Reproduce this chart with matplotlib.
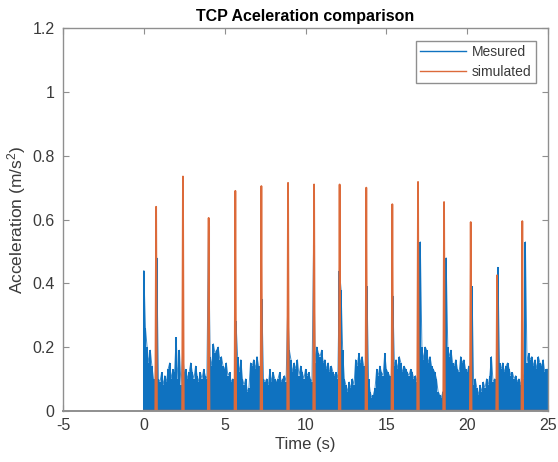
#!/usr/bin/env python3
"""
Recreate the "TCP Aceleration comparison" figure: measured TCP acceleration
(dense noisy trace) against the simulated acceleration pulses.
Writes out.png (558x462 px).
"""

import numpy as np
import matplotlib
matplotlib.use("Agg")
import matplotlib.pyplot as plt
from matplotlib.lines import Line2D
from matplotlib.ticker import FuncFormatter

# ---- data ----------------------------------------------------------------
# measured acceleration, one value every 0.1 s from t = 0 to t = 25 s
# (upper envelope of the sampled trace)
meas_step = 0.1
measured = [
    0.44, 0.26, 0.20, 0.15, 0.19, 0.14, 0.10, 0.06, 0.48, 0.10,   # 0 s
    0.09, 0.12, 0.08, 0.11, 0.09, 0.13, 0.15, 0.10, 0.13, 0.12,   # 1 s
    0.23, 0.10, 0.19, 0.08, 0.18, 0.12, 0.13, 0.10, 0.12, 0.15,   # 2 s
    0.12, 0.10, 0.14, 0.11, 0.09, 0.12, 0.10, 0.13, 0.11, 0.10,   # 3 s
    0.58, 0.17, 0.14, 0.21, 0.18, 0.19, 0.20, 0.16, 0.17, 0.14,   # 4 s
    0.13, 0.15, 0.11, 0.12, 0.09, 0.10, 0.08, 0.28, 0.17, 0.12,   # 5 s
    0.16, 0.10, 0.08, 0.10, 0.06, 0.07, 0.15, 0.14, 0.16, 0.13,   # 6 s
    0.17, 0.14, 0.12, 0.35, 0.10, 0.09, 0.10, 0.08, 0.13, 0.09,   # 7 s
    0.12, 0.10, 0.09, 0.10, 0.12, 0.09, 0.10, 0.11, 0.09, 0.33,   # 8 s
    0.19, 0.16, 0.12, 0.15, 0.13, 0.16, 0.11, 0.14, 0.12, 0.10,   # 9 s
    0.13, 0.11, 0.12, 0.10, 0.09, 0.52, 0.15, 0.20, 0.18, 0.17,   # 10 s
    0.19, 0.15, 0.16, 0.13, 0.15, 0.12, 0.14, 0.12, 0.11, 0.12,   # 11 s
    0.10, 0.44, 0.38, 0.19, 0.10, 0.08, 0.06, 0.09, 0.07, 0.10,   # 12 s
    0.08, 0.16, 0.14, 0.18, 0.15, 0.17, 0.14, 0.13, 0.39, 0.10,   # 13 s
    0.06, 0.04, 0.05, 0.07, 0.13, 0.11, 0.14, 0.12, 0.11, 0.18,   # 14 s
    0.13, 0.12, 0.11, 0.10, 0.36, 0.14, 0.16, 0.13, 0.17, 0.15,   # 15 s
    0.12, 0.14, 0.13, 0.12, 0.11, 0.13, 0.12, 0.10, 0.11, 0.09,   # 16 s
    0.12, 0.53, 0.20, 0.16, 0.20, 0.19, 0.15, 0.17, 0.14, 0.13,   # 17 s
    0.12, 0.10, 0.06, 0.05, 0.04, 0.06, 0.05, 0.48, 0.20, 0.17,   # 18 s
    0.19, 0.15, 0.14, 0.16, 0.13, 0.12, 0.17, 0.15, 0.16, 0.13,   # 19 s
    0.12, 0.14, 0.10, 0.39, 0.08, 0.10, 0.07, 0.05, 0.08, 0.06,   # 20 s
    0.09, 0.07, 0.10, 0.08, 0.11, 0.17, 0.09, 0.10, 0.07, 0.45,   # 21 s
    0.15, 0.13, 0.15, 0.12, 0.14, 0.15, 0.13, 0.11, 0.12, 0.10,   # 22 s
    0.11, 0.09, 0.10, 0.08, 0.12, 0.10, 0.53, 0.15, 0.18, 0.16,   # 23 s
    0.17, 0.14, 0.16, 0.13, 0.17, 0.15, 0.14, 0.16, 0.12, 0.13,   # 24 s
    0.13,                                                         # 25 s
]

# simulated acceleration: zero except for one short pulse per move
pulse_times = [0.76, 2.42, 4.01, 5.66, 7.27, 8.92, 10.53, 12.11,
               13.76, 15.37, 16.96, 18.57, 20.22, 21.85, 23.41]
pulse_peaks = [0.64, 0.735, 0.605, 0.69, 0.705, 0.715, 0.71, 0.71,
               0.70, 0.648, 0.718, 0.655, 0.592, 0.425, 0.595]
sim_start, sim_end = 0.0, 25.0

x_ticks = [-5, 0, 5, 10, 15, 20, 25]
y_ticks = [0, 0.2, 0.4, 0.6, 0.8, 1.0, 1.2]

BLUE = "#0f72c0"
ORANGE = "#dc6a3a"
AXIS_GREY = "#8f8f8f"
TEXT_GREY = "#3a3a3a"

plt.rcParams["font.family"] = ["Liberation Sans", "DejaVu Sans"]
plt.rcParams["mathtext.fontset"] = "custom"
plt.rcParams["mathtext.rm"] = "Liberation Sans"
plt.rcParams["mathtext.it"] = "Liberation Sans:italic"
plt.rcParams["axes.unicode_minus"] = False


def simulated_trace(times, peaks, half_width=0.05):
    t = [sim_start]
    a = [0.0]
    for p, h in zip(times, peaks):
        t += [p - half_width, p, p + half_width]
        a += [0.0, h, 0.0]
    t.append(sim_end)
    a.append(0.0)
    return np.array(t), np.array(a)


def main():
    fig = plt.figure(figsize=(5.58, 4.62), dpi=100)
    ax = fig.add_axes([0.1129, 0.111, 0.8692, 0.8277])

    t_meas = np.arange(len(measured)) * meas_step
    # vertical strokes give the dense filled look of the sampled trace,
    # the thin line on top gives the jagged upper edge
    ax.vlines(t_meas, 0, measured, color=BLUE, linewidth=1.45, zorder=2)
    ax.plot(t_meas, measured, color=BLUE, linewidth=0.7, alpha=0.8, zorder=2)

    t_sim, a_sim = simulated_trace(pulse_times, pulse_peaks)
    ax.plot(t_sim, a_sim, color=ORANGE, linewidth=1.3, zorder=3)

    ax.set_xlim(-5, 25)
    ax.set_ylim(0, 1.2)
    ax.set_xticks(x_ticks)
    ax.set_yticks(y_ticks)
    ax.yaxis.set_major_formatter(FuncFormatter(lambda v, _: f"{v:g}"))

    ax.tick_params(direction="in", length=4, width=0.8, colors=AXIS_GREY,
                   labelcolor=TEXT_GREY, labelsize=11.5,
                   top=True, right=True)
    ax.tick_params(axis="x", pad=5)
    ax.tick_params(axis="y", pad=6)
    for sp in ax.spines.values():
        sp.set_color(AXIS_GREY)
        sp.set_linewidth(1.0)
        sp.set_zorder(4)
    # a slightly heavier base line hides the zero level of the simulated trace
    ax.spines["bottom"].set_linewidth(1.4)

    ax.set_title("TCP Aceleration comparison", fontsize=11.5,
                 fontweight="bold", pad=5)
    ax.set_xlabel("Time (s)", fontsize=12, color=TEXT_GREY, labelpad=3)
    ax.set_ylabel("Acceleration (m/s$^2$)", fontsize=12.5, color=TEXT_GREY,
                  labelpad=3)

    handles = [Line2D([], [], color=BLUE, linewidth=1.0),
               Line2D([], [], color=ORANGE, linewidth=1.0)]
    leg = ax.legend(handles, ["Mesured", "simulated"], loc="upper right",
                    fontsize=10, handlelength=3.3, handletextpad=0.4,
                    borderpad=0.3, labelspacing=0.4,
                    borderaxespad=0.9, fancybox=False, framealpha=1)
    leg.get_frame().set_edgecolor(AXIS_GREY)
    leg.get_frame().set_linewidth(1.0)
    for txt in leg.get_texts():
        txt.set_color(TEXT_GREY)

    fig.savefig("out.png", dpi=100)
    plt.close(fig)


if __name__ == "__main__":
    main()
